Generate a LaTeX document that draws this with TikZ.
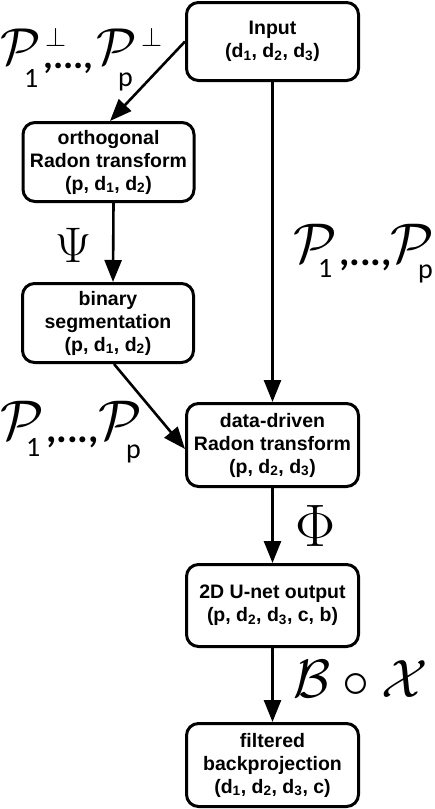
\RequirePackage{fix-cm}
\documentclass[tikz,border=0pt]{standalone}
\usepackage[no-math]{fontspec}
\setmainfont{Liberation Sans}
\newfontfamily\carl{Carlito}
\usetikzlibrary{arrows.meta}
% place #3 at horizontal offset #1, raised by #2, without taking width
\newcommand{\putat}[3]{\rlap{\hspace*{#1}\raisebox{#2}{#3}}}
\newcommand{\calP}[1]{{\fontsize{#1}{60}\selectfont$\mathcal{P}$}}
\newcommand{\subf}[1]{{\carl\fontsize{28}{28}\selectfont #1}}
\newcommand{\supf}{{\fontsize{27}{27}\selectfont$\perp$}}
\newcommand{\dotsf}[1]{{\carl\bfseries\fontsize{#1}{36}\selectfont ,...,}}
\begin{document}
\begin{tikzpicture}[x=1pt,y=-1pt,
  box/.style={draw, line width=3pt, rounded corners=12pt, align=center,
    font=\fontsize{19.5}{23}\selectfont\bfseries, inner sep=0pt},
  rbox/.style={box, minimum width=172pt},
  lbox/.style={box, minimum width=171pt, minimum height=79pt},
  arr/.style={line width=2.6pt, -{Triangle[length=22pt,width=17pt]}},
  lab/.style={inner sep=0pt, font=\fontsize{50}{60}\selectfont}]
\useasboundingbox (0,0) rectangle (435,809);

\node[rbox, minimum height=78pt] (in) at (272.5,41.5)
  {Input\\(d\textsubscript{1}, d\textsubscript{2}, d\textsubscript{3})};
\node[lbox] (orth) at (108.5,162)
  {orthogonal\\Radon transform\\(p, d\textsubscript{1}, d\textsubscript{2})};
\node[lbox] (bin) at (108,323)
  {binary\\segmentation\\(p, d\textsubscript{1}, d\textsubscript{2})};
\node[rbox, minimum height=83pt] (data) at (272.5,445)
  {data-driven\\Radon transform\\(p, d\textsubscript{2}, d\textsubscript{3})};
\node[rbox, minimum height=82pt] (unet) at (272.5,605.5)
  {2D U-net output\\(p, d\textsubscript{2}, d\textsubscript{3}, c, b)};
\node[rbox, minimum height=83pt] (fbp) at (272.5,765)
  {filtered\\backprojection\\(d\textsubscript{1}, d\textsubscript{2}, d\textsubscript{3}, c)};

\draw[arr] (in.west) -- ([xshift=1.5pt]orth.north);
\draw[arr] (in.south) -- (data.north);
\draw[arr] ([xshift=5pt]orth.south) -- ([xshift=5pt]bin.north);
\draw[arr] ([xshift=6pt]bin.south) -- ([yshift=-4pt]data.west);
\draw[arr] (data.south) -- (unet.north);
\draw[arr] (unet.south) -- (fbp.north);

\node[lab, anchor=base west] (l1) at (0,64)
  {\putat{0pt}{0pt}{\calP{52}}\putat{45pt}{18pt}{\supf}\putat{24pt}{-23pt}{\subf{1}}%
   \putat{43pt}{-4pt}{\dotsf{38}}\putat{96pt}{0pt}{\calP{52}}\putat{118pt}{-22pt}{\subf{p}}%
   \putat{141pt}{18pt}{\supf}\hspace*{162pt}};
\node[lab] (psi) at (73.5,245) {$\Psi$};
\node[lab, anchor=base west] (l2) at (293,262)
  {\putat{0pt}{0pt}{\calP{56}}\putat{25pt}{-15pt}{\subf{1}}%
   \putat{46pt}{-3pt}{\dotsf{40}}\putat{97pt}{0pt}{\calP{56}}\putat{125pt}{-16pt}{\subf{p}}%
   \hspace*{142pt}};
\node[lab, anchor=base west] (l3) at (0,439)
  {\putat{0pt}{0pt}{\calP{56}}\putat{26pt}{-17pt}{\subf{1}}%
   \putat{46pt}{-3pt}{\dotsf{40}}\putat{98pt}{0pt}{\calP{56}}\putat{126pt}{-19pt}{\subf{p}}%
   \hspace*{142pt}};
\node[lab, font=\fontsize{60}{64}\selectfont] (phi) at (316,526) {$\Phi$};
\node[lab, font=\fontsize{54}{60}\selectfont, anchor=base west] (bx) at (293,697)
  {$\mathcal{B}\circ\mathcal{X}$};
\end{tikzpicture}
\end{document}
